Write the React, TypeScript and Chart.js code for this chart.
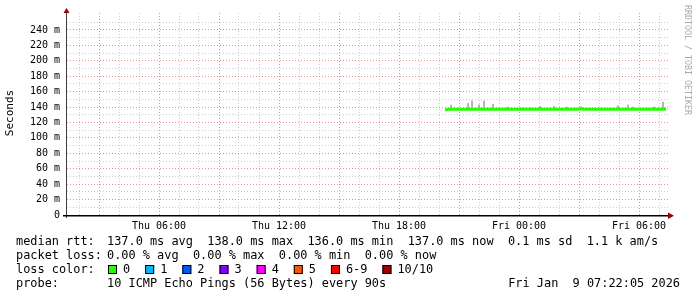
import React, { useEffect, useRef } from 'react';
import { Chart, registerables } from 'chart.js';

Chart.register(...registerables);

// Time in hours since Thu 00:00
const X_MIN = 1.4;
const X_MAX = 31.45;
const Y_MIN = 0;
const Y_MAX = 262;

const medianTimes = [20.3, 20.5, 20.75, 21, 21.25, 21.5, 21.75, 22, 22.25, 22.5, 22.75, 23, 23.25, 23.5, 23.75, 24, 24.25, 24.5, 24.75, 25, 25.25, 25.5, 25.75, 26, 26.25, 26.5, 26.75, 27, 27.1, 27.2, 27.5, 27.75, 28, 28.25, 28.5, 28.75, 29, 29.25, 29.5, 29.75, 30, 30.25, 30.5, 30.75, 31, 31.35];
const medianValues = [136.5, 137, 137, 137, 137, 137, 137, 137, 137, 137, 137, 137, 137, 137, 137, 137, 137, 137, 137, 137, 137, 137, 137, 137, 137, 137, 137, 137, 138.5, 137, 137, 137, 137, 137, 137, 137, 137, 137, 137, 137, 137, 137, 137, 137, 137, 137];

const smokeTimes = [20.6, 21.45, 21.65, 22.0, 22.25, 22.7, 23.35, 23.45, 24.2, 24.55, 25.05, 25.75, 26.4, 28.95, 29.45, 29.7, 30.75, 31.2];
const smokeMin = [137, 137, 137, 137, 137, 137, 137, 137, 137, 137, 137, 137, 137, 137, 137, 137, 137, 137];
const smokeMax = [142.7, 145, 148, 143, 148, 144, 139, 140, 139, 139, 141, 141, 140, 141.5, 142.7, 140, 140, 146.5];

const yLabelledStep = 20;
const xLabelStepHours = 6;
const xMajorHours = 3;

const statsLabels = ['median rtt:', 'packet loss:', 'loss color:', 'probe:'];
const rttText = '137.0 ms avg  138.0 ms max  136.0 ms min  137.0 ms now  0.1 ms sd  1.1 k am/s';
const lossText = '0.00 % avg  0.00 % max  0.00 % min  0.00 % now';
const probeText = '10 ICMP Echo Pings (56 Bytes) every 90s';
const dateText = 'Fri Jan  9 07:22:05 2026';
const lossLabels = ['0', '1', '2', '3', '4', '5', '6-9', '10/10'];
const lossColors = ['#26ff00', '#00b8ff', '#0059ff', '#7e00ff', '#ff00ff', '#ff5500', '#ff0000', '#a10000'];
const yAxisTitle = 'Seconds';
const watermark = 'RRDTOOL / TOBI OETIKER';

const MONO = '"DejaVu Sans Mono", monospace';
const MAJOR_GRID = 'rgba(238,120,120,0.85)';
const MINOR_GRID = 'rgba(190,190,190,0.75)';

const overlayPlugin = {
  id: 'overlay',
  afterDraw(chart: any) {
    const ctx: CanvasRenderingContext2D = chart.ctx;
    const { left, right, top, bottom } = chart.chartArea;
    ctx.save();
    // y axis
    ctx.strokeStyle = '#404040';
    ctx.lineWidth = 1;
    ctx.beginPath();
    ctx.moveTo(left - 0.5, bottom + 3);
    ctx.lineTo(left - 0.5, top - 2);
    ctx.stroke();
    // x axis
    ctx.strokeStyle = '#000';
    ctx.lineWidth = 1.5;
    ctx.beginPath();
    ctx.moveTo(left - 4, bottom + 0.75);
    ctx.lineTo(right + 2, bottom + 0.75);
    ctx.stroke();
    // arrows
    ctx.fillStyle = '#990000';
    ctx.beginPath();
    ctx.moveTo(right, bottom - 2.5);
    ctx.lineTo(right + 6, bottom + 0.75);
    ctx.lineTo(right, bottom + 4);
    ctx.closePath();
    ctx.fill();
    ctx.beginPath();
    ctx.moveTo(left - 3.5, top);
    ctx.lineTo(left - 0.5, top - 5);
    ctx.lineTo(left + 2.5, top);
    ctx.closePath();
    ctx.fill();

    // y title
    ctx.fillStyle = '#000';
    ctx.font = `11px ${MONO}`;
    ctx.save();
    ctx.translate(10.5, 113);
    ctx.rotate(-Math.PI / 2);
    ctx.textAlign = 'center';
    ctx.textBaseline = 'middle';
    ctx.fillText(yAxisTitle, 0, 0);
    ctx.restore();

    // watermark
    ctx.save();
    ctx.translate(687, 5);
    ctx.rotate(Math.PI / 2);
    ctx.fillStyle = '#aaaaaa';
    ctx.font = `8.3px ${MONO}`;
    ctx.textAlign = 'left';
    ctx.textBaseline = 'middle';
    ctx.fillText(watermark, 0, 0);
    ctx.restore();

    // legend text
    ctx.fillStyle = '#000';
    ctx.font = `11.9px ${MONO}`;
    ctx.textAlign = 'left';
    ctx.textBaseline = 'alphabetic';
    const labelX = 16;
    const valX = 107;
    const baselines = [245, 259, 273, 287];
    ctx.fillText(statsLabels[0], labelX, baselines[0]);
    ctx.fillText(rttText, valX, baselines[0]);
    ctx.fillText(statsLabels[1], labelX, baselines[1]);
    ctx.fillText(lossText, valX, baselines[1]);
    ctx.fillText(statsLabels[2], labelX, baselines[2]);
    let bx = 108;
    for (let i = 0; i < lossLabels.length; i++) {
      ctx.fillStyle = lossColors[i];
      ctx.fillRect(bx, 265, 9, 9);
      ctx.strokeStyle = '#000';
      ctx.lineWidth = 1;
      ctx.strokeRect(bx + 0.5, 265.5, 8, 8);
      ctx.fillStyle = '#000';
      const lx = bx + 15;
      ctx.fillText(lossLabels[i], lx, baselines[2]);
      bx = lx + ctx.measureText(lossLabels[i]).width + 15;
    }
    ctx.fillText(statsLabels[3], labelX, baselines[3]);
    ctx.fillText(probeText, valX, baselines[3]);
    ctx.textAlign = 'right';
    ctx.fillText(dateText, 680, baselines[3]);
    ctx.restore();
  },
};

function xLabel(v: number): string {
  if (Math.abs(v % xLabelStepHours) > 1e-6) return '';
  const day = v < 24 ? 'Thu' : 'Fri';
  const hh = Math.round(v % 24);
  return `${day} ${String(hh).padStart(2, '0')}:00`;
}

export default function App() {
  const ref = useRef<HTMLCanvasElement | null>(null);
  useEffect(() => {
    if (!ref.current) return;
    const chart = new Chart(ref.current, {
      type: 'bar',
      data: {
        datasets: [
          {
            type: 'line',
            data: medianTimes.map((t, i) => ({ x: t, y: medianValues[i] })),
            borderColor: '#26ff00',
            borderWidth: 3,
            pointRadius: 0,
            tension: 0,
            order: 0,
          } as any,
          {
            type: 'bar',
            data: smokeTimes.map((t, i) => ({ x: t, y: [smokeMin[i], smokeMax[i]] })),
            backgroundColor: '#a8a8a8',
            borderWidth: 0,
            borderSkipped: false,
            barThickness: 1,
            grouped: false,
            order: 1,
          } as any,
        ],
      },
      options: {
        responsive: false,
        animation: false,
        devicePixelRatio: 1,
        layout: { padding: { left: 0, top: 13, right: 29, bottom: 62 } },
        plugins: { legend: { display: false }, tooltip: { enabled: false } },
        scales: {
          x: {
            type: 'linear',
            min: X_MIN,
            max: X_MAX,
            offset: false,
            afterFit: (s: any) => { s.height = 20; },
            grid: {
              offset: false,
              drawTicks: false,
              lineWidth: 1,
              color: (c: any) => {
                const v = c.tick ? c.tick.value : 0;
                return Math.abs(v % xMajorHours) < 1e-6 ? MAJOR_GRID : MINOR_GRID;
              },
            },
            border: { display: false, dash: [1, 2] },
            ticks: {
              stepSize: 1,
              includeBounds: false,
              autoSkip: false,
              maxRotation: 0,
              padding: 5,
              color: '#000',
              font: { family: MONO, size: 10 },
              callback: (v: any) => xLabel(Number(v)),
            },
          },
          y: {
            type: 'linear',
            min: Y_MIN,
            max: Y_MAX,
            afterFit: (s: any) => { s.width = 67; },
            grid: {
              drawTicks: false,
              lineWidth: 1,
              color: (c: any) => {
                const v = c.tick ? c.tick.value : 0;
                if (v > 250 || v === 0) return 'rgba(0,0,0,0)';
                return v % yLabelledStep === 0 ? MAJOR_GRID : MINOR_GRID;
              },
            },
            border: { display: false, dash: [1, 2] },
            ticks: {
              stepSize: 10,
              includeBounds: false,
              autoSkip: false,
              padding: 7,
              color: '#000',
              font: { family: MONO, size: 10 },
              callback: (v: any) => {
                const n = Number(v);
                if (n > 250 || n % yLabelledStep !== 0) return '';
                return n === 0 ? '0' : `${n} m`;
              },
            },
          },
        },
      },
      plugins: [overlayPlugin],
    } as any);
    return () => chart.destroy();
  }, []);
  return (
    <div style={{ position: 'fixed', left: 0, top: 0, width: 697, height: 297, background: '#fff' }}>
      <canvas ref={ref} width={697} height={297} style={{ display: 'block', width: 697, height: 297 }} />
    </div>
  );
}
